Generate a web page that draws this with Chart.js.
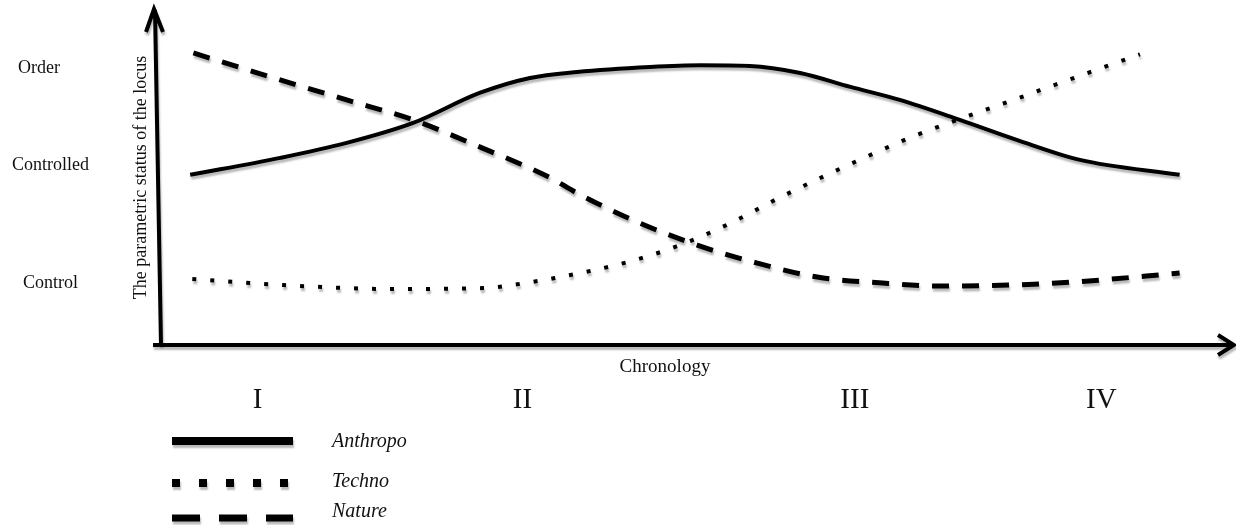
<!DOCTYPE html>
<html lang="en">
<head>
    <meta charset="UTF-8">
    <title>Parametric status of the locus</title>
    <script src="https://cdn.jsdelivr.net/npm/chart.js"></script>
    <style>
        body { margin: 0; background: #fff; }
        .wrap { width: 1236px; height: 525px; }
    </style>
</head>
<body>
    <div class="wrap"><canvas id="locus-chart" width="1236" height="525"></canvas></div>
    <script>
        // chronology runs 0..100 along x, status 0..100 up y
        const periods = ['I', 'II', 'III', 'IV'];
        const periodAt = [9.3, 34, 65, 88];
        const statusLabels = ['Order', 'Controlled', 'Control'];
        const statusAt = [83.2, 54.1, 18.6];
        const seriesNames = ['Anthropo', 'Techno', 'Nature'];

        const anthropoX = [3, 11.4, 17.6, 23.8, 30, 34.7, 39.1, 45.9, 50.6, 55.2, 59.9, 64.6, 69.2, 74.8, 80.1, 86, 95.3];
        const anthropoY = [51.1, 56.2, 60.7, 66.7, 75.7, 80.2, 82, 83.5, 84, 83.8, 81.7, 77.5, 73.6, 67.6, 61.6, 55.6, 51.1];

        const technoX = [3.2, 11.7, 21.9, 30.3, 35.4, 37, 43.8, 48.7, 53.4, 57.7, 62.4, 67.1, 70.1, 74.8, 79.8, 84.4, 91.6];
        const technoY = [19.8, 18, 16.8, 17.1, 19.2, 20.1, 24.9, 30, 36.6, 43.8, 51.1, 58, 62.2, 67.9, 73.6, 79, 87.3];

        const natureX = [3.3, 11.4, 17.6, 23.8, 30, 36.6, 39.1, 44.3, 50.3, 55.9, 61.5, 67.6, 73.2, 79.5, 85.4, 95.3];
        const natureY = [87.7, 79.6, 73.6, 67.6, 59.5, 50.2, 45.6, 37.5, 30, 24.6, 20.4, 18.6, 17.7, 18, 18.9, 21.6];

        const toPoints = (xs, ys) => xs.map((x, i) => ({ x: x, y: ys[i] }));

        const serif = "'Liberation Serif', 'DejaVu Serif', serif";
        const ink = '#111';

        // legend strokes are drawn bigger than the plot lines
        const legendStyles = [
            { width: 8, dash: [] },
            { width: 8, dash: [8, 19] },
            { width: 7, dash: [28, 19] }
        ];

        function shadow(ctx) {
            ctx.shadowColor = 'rgba(0, 0, 0, 0.28)';
            ctx.shadowOffsetX = 1;
            ctx.shadowOffsetY = 3;
            ctx.shadowBlur = 2;
        }

        const decor = {
            id: 'decor',
            beforeDatasetsDraw(chart) {
                chart.ctx.save();
                shadow(chart.ctx);
            },
            afterDatasetsDraw(chart) {
                chart.ctx.restore();
            },
            afterDraw(chart) {
                const ctx = chart.ctx;
                const area = chart.chartArea;
                const xs = chart.scales.x;
                const ys = chart.scales.y;

                // axes with open arrow heads
                ctx.save();
                shadow(ctx);
                ctx.strokeStyle = '#000';
                ctx.lineWidth = 4;
                ctx.lineCap = 'butt';
                ctx.lineJoin = 'miter';
                ctx.beginPath();
                ctx.moveTo(area.left + 3, area.bottom);
                ctx.lineTo(area.left - 3, area.top - 2);
                ctx.moveTo(area.left - 12, area.top + 20);
                ctx.lineTo(area.left - 4, area.top - 3);
                ctx.lineTo(area.left + 5, area.top + 20);
                ctx.stroke();

                ctx.beginPath();
                ctx.moveTo(area.left - 5, area.bottom);
                ctx.lineTo(area.right + 3, area.bottom);
                ctx.moveTo(area.right - 12, area.bottom - 10);
                ctx.lineTo(area.right + 4, area.bottom);
                ctx.lineTo(area.right - 12, area.bottom + 10);
                ctx.stroke();

                // legend
                seriesNames.forEach((name, i) => {
                    const ly = [441, 483, 518][i];
                    const st = legendStyles[i];
                    ctx.beginPath();
                    ctx.lineWidth = st.width;
                    ctx.setLineDash(st.dash);
                    ctx.moveTo(172, ly);
                    ctx.lineTo(293, ly);
                    ctx.stroke();
                });
                ctx.restore();

                ctx.save();
                ctx.fillStyle = ink;
                ctx.textBaseline = 'middle';

                // status labels on the left
                ctx.font = '18px ' + serif;
                ctx.textAlign = 'left';
                const labelLeft = [18, 12, 23];
                statusLabels.forEach((lab, i) => {
                    ctx.fillText(lab, labelLeft[i], ys.getPixelForValue(statusAt[i]));
                });

                // rotated axis title
                ctx.save();
                ctx.translate(141, (area.top + area.bottom) / 2 - 1);
                ctx.rotate(-Math.PI / 2);
                ctx.textAlign = 'center';
                ctx.font = '18px ' + serif;
                ctx.fillText('The parametric status of the locus', 0, 0);
                ctx.restore();

                // chronology title and periods
                ctx.textAlign = 'center';
                ctx.font = '19px ' + serif;
                ctx.fillText('Chronology', 665, area.bottom + 22);

                ctx.font = '29px ' + serif;
                periods.forEach((p, i) => {
                    ctx.fillText(p, xs.getPixelForValue(periodAt[i]), 400);
                });

                ctx.textAlign = 'left';
                ctx.font = 'italic 20px ' + serif;
                seriesNames.forEach((name, i) => {
                    ctx.fillText(name, 332, [442, 482, 512][i]);
                });
                ctx.restore();
            }
        };

        const ctx = document.getElementById('locus-chart').getContext('2d');
        const locusChart = new Chart(ctx, {
            type: 'line',
            data: {
                datasets: [
                    {
                        label: seriesNames[0],
                        data: toPoints(anthropoX, anthropoY),
                        borderColor: '#000',
                        borderWidth: 4,
                        cubicInterpolationMode: 'monotone',
                        pointRadius: 0
                    },
                    {
                        label: seriesNames[1],
                        data: toPoints(technoX, technoY),
                        borderColor: '#000',
                        borderWidth: 4,
                        borderDash: [4, 14],
                        cubicInterpolationMode: 'monotone',
                        pointRadius: 0
                    },
                    {
                        label: seriesNames[2],
                        data: toPoints(natureX, natureY),
                        borderColor: '#000',
                        borderWidth: 5,
                        borderDash: [17, 13],
                        cubicInterpolationMode: 'monotone',
                        pointRadius: 0
                    }
                ]
            },
            options: {
                responsive: false,
                animation: false,
                layout: { padding: { left: 158, right: 6, top: 12, bottom: 180 } },
                plugins: { legend: { display: false }, tooltip: { enabled: false } },
                scales: {
                    x: { type: 'linear', min: 0, max: 100, display: false },
                    y: { min: 0, max: 100, display: false }
                }
            },
            plugins: [decor]
        });
    </script>
</body>
</html>
